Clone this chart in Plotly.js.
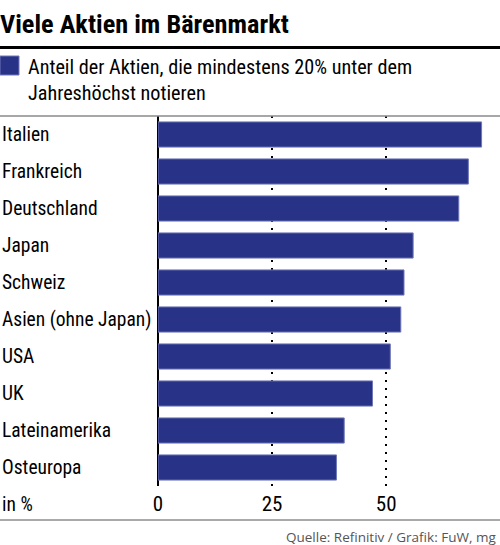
<!DOCTYPE html>
<html>
<head>
<meta charset="utf-8">
<script src="https://cdn.plot.ly/plotly-3.0.1.min.js"></script>
<style>html,body{margin:0;padding:0;background:#fff;}#chart{width:500px;height:545px;}</style>
</head>
<body>
<div id="chart"></div>
<script>
const categories = ["Italien", "Frankreich", "Deutschland", "Japan", "Schweiz", "Asien (ohne Japan)", "USA", "UK", "Lateinamerika", "Osteuropa"];
const values = [70.9, 68.0, 65.9, 55.9, 53.9, 53.2, 50.9, 47.0, 40.8, 39.1];
const tickValues = [0, 25, 50];
const tickLabels = ["0", "25", "50"];
const seriesName = "Anteil der Aktien, die mindestens 20% unter dem<br>Jahreshöchst notieren";
const titleText = "Viele Aktien im Bärenmarkt";
const unitText = "in %";
const sourceText = "Quelle: Refinitiv / Grafik: FuW, mg";

const FONT = "Roboto Condensed";
const BAR = "#283388";

// pixel helpers for decorations (plot area: x 158..500, y 116..486)
const L = 158, R = 0, T = 116, B = 59, W = 500, H = 545;
const pw = W - L - R, ph = H - T - B;
const px = p => (p - L) / pw;
const py = p => (H - B - p) / ph;

const trace = {
  type: "bar",
  orientation: "h",
  x: values,
  y: categories,
  marker: { color: BAR, line: { color: "#7077b6", width: 1 } },
  hoverinfo: "skip",
  showlegend: false
};

const annotations = categories.map(c => ({
  xref: "paper", yref: "y", x: px(0), y: c,
  xanchor: "left", yanchor: "middle",
  text: c, showarrow: false,
  font: { family: FONT, size: 19.5, color: "#000" }
}));
annotations.push({
  xref: "paper", yref: "paper", x: px(26), y: py(53),
  xanchor: "left", yanchor: "top", align: "left",
  text: seriesName, showarrow: false,
  font: { family: FONT, size: 20.2, color: "#000" }
});
annotations.push({
  xref: "paper", yref: "paper", x: px(0), y: py(504),
  xanchor: "left", yanchor: "middle",
  text: unitText, showarrow: false,
  font: { family: FONT, size: 19.5, color: "#000" }
});
annotations.push({
  xref: "paper", yref: "paper", x: px(498), y: py(537),
  xanchor: "right", yanchor: "middle",
  text: sourceText, showarrow: false,
  font: { family: "Open Sans", size: 13.5, color: "#555" }
});

const layout = {
  width: W, height: H,
  margin: { l: L, r: R, t: T, b: B, pad: 0 },
  paper_bgcolor: "#fff", plot_bgcolor: "#fff",
  bargap: 0.32,
  title: {
    text: "<b>" + titleText + "</b>",
    x: 0, xref: "container", xanchor: "left",
    y: 1 - 24 / H, yref: "container", yanchor: "middle",
    font: { family: FONT, size: 26.3, color: "#000" }
  },
  xaxis: {
    range: [0, pw / 4.564],
    tickvals: tickValues, ticktext: tickLabels,
    showgrid: true, gridcolor: "#000", gridwidth: 1.5, griddash: "1.5px,6.5px",
    zeroline: true, zerolinecolor: "#000", zerolinewidth: 2,
    showline: false, ticks: "", ticklabelstandoff: 3,
    tickfont: { family: FONT, size: 21, color: "#000" },
    fixedrange: true
  },
  yaxis: {
    type: "category",
    categoryorder: "array", categoryarray: categories,
    autorange: "reversed",
    showticklabels: false, showgrid: false, zeroline: false, ticks: "",
    fixedrange: true
  },
  shapes: [
    { type: "line", xref: "paper", yref: "paper", x0: px(0), x1: px(500), y0: py(47.5), y1: py(47.5), line: { color: "#000", width: 3 } },
    { type: "line", xref: "paper", yref: "paper", x0: px(0), x1: px(500), y0: 1, y1: 1, line: { color: "#8a8a8a", width: 1.5 } },
    { type: "line", xref: "paper", yref: "paper", x0: px(0), x1: px(500), y0: py(520), y1: py(520), line: { color: "#555", width: 1 } },
    { type: "rect", xref: "paper", yref: "paper", x0: px(0), x1: px(19), y0: py(75), y1: py(56), fillcolor: BAR, line: { color: "#7077b6", width: 1 } }
  ],
  annotations: annotations
};

Plotly.newPlot("chart", [trace], layout, { displayModeBar: false, staticPlot: true });
</script>
</body>
</html>
